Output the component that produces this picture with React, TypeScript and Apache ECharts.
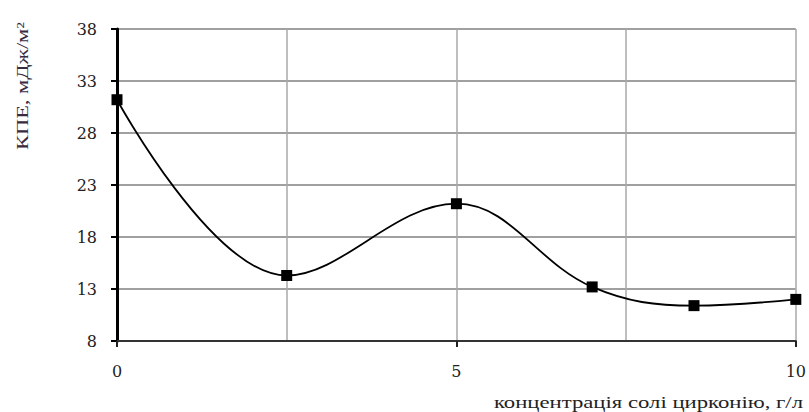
import React, { useEffect, useRef } from "react";
import * as echarts from "echarts";

const xValues = [0, 2.5, 5, 7, 8.5, 10];
const yValues = [31.2, 14.3, 21.2, 13.2, 11.4, 12.0];
const xTickLabels = ["0", "5", "10"];
const yTitle = "КПЕ, мДж/м²";
const xTitle = "концентрація солі цирконію, г/л";

export default function App() {
  const ref = useRef<HTMLDivElement>(null);
  useEffect(() => {
    if (!ref.current) return;
    const chart = echarts.init(ref.current, null, { renderer: "svg" });
    const font = "'Liberation Serif', 'Times New Roman', serif";
    const wideFont = "'DejaVu Serif', serif";
    chart.setOption({
      animation: false,
      backgroundColor: "#fff",
      grid: { left: 117, right: 13, top: 29, bottom: 71, containLabel: false },
      xAxis: {
        type: "value",
        min: 0,
        max: 10,
        interval: 5,
        axisLine: { show: true, onZero: false, lineStyle: { color: "#333", width: 2 } },
        axisTick: { show: true, length: 6, lineStyle: { color: "#222", width: 2 } },
        axisLabel: {
          margin: 22,
          fontFamily: wideFont,
          fontSize: 16,
          color: "#222",
          formatter: (v: number) => (xTickLabels.includes(String(v)) ? String(v) : ""),
        },
        splitLine: { show: true, lineStyle: { color: "#a8a8a8", width: 1.5 } },
        minorTick: { show: false, splitNumber: 2 },
        minorSplitLine: { show: true, lineStyle: { color: "#a8a8a8", width: 1.5 } },
      },
      yAxis: {
        type: "value",
        min: 8,
        max: 38,
        interval: 5,
        axisLine: { show: true, onZero: false, lineStyle: { color: "#000", width: 3 } },
        axisTick: { show: true, inside: false, length: 6, lineStyle: { color: "#000", width: 2 } },
        axisLabel: {
          margin: 20,
          fontFamily: wideFont,
          fontSize: 16,
          color: "#222",
        },
        splitLine: { show: true, lineStyle: { color: "#a0a0a0", width: 2 } },
      },
      series: [
        {
          type: "line",
          data: xValues.map((x, i) => [x, yValues[i]]),
          smooth: 0.38,
          symbol: "rect",
          symbolSize: 11,
          itemStyle: { color: "#000" },
          lineStyle: { color: "#000", width: 1.8 },
          z: 5,
        },
      ],
      graphic: [
        {
          type: "text",
          x: 22,
          y: 86,
          rotation: Math.PI / 2,
          scaleX: 1.4,
          scaleY: 1.05,
          style: {
            text: yTitle,
            fontFamily: font,
            fontSize: 16,
            fill: "#3a2a40",
            textAlign: "center",
            textVerticalAlign: "middle",
          },
        },
        {
          type: "text",
          x: 803,
          y: 402,
          scaleX: 1.42,
          scaleY: 1.05,
          style: {
            text: xTitle,
            fontFamily: font,
            fontSize: 16,
            fill: "#222",
            textAlign: "right",
            textVerticalAlign: "middle",
          },
        },
      ],
    });
    return () => chart.dispose();
  }, []);
  return <div ref={ref} style={{ width: 809, height: 412, position: "absolute", left: 0, top: 0 }} />;
}
